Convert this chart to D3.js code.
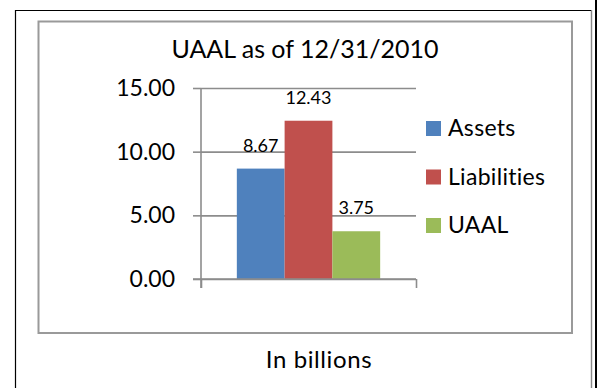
<!DOCTYPE html>
<html>
<head>
<meta charset="utf-8">
<script src="https://cdn.jsdelivr.net/npm/d3@7"></script>
<style>
  html, body { margin: 0; padding: 0; background: #fff; }
  svg { display: block; font-family: "Lato", "Open Sans", sans-serif; font-variant-ligatures: none; font-feature-settings: "liga" 0; }
</style>
</head>
<body>
<svg id="chart" width="597" height="388"></svg>
<script>
// Chart data
const title = "UAAL as of 12/31/2010";
const axisTitle = "In billions";
const category = ["In billions"];
const seriesNames = ["Assets", "Liabilities", "UAAL"];
const seriesValues = [8.67, 12.43, 3.75];
const seriesColors = ["#4F81BD", "#C0504D", "#9BBB59"];
const yTicks = [0, 5, 10, 15];

const svg = d3.select("#chart");

// Frame lines around the chart object
svg.append("rect").attr("x", 0).attr("y", 0).attr("width", 597).attr("height", 388).attr("fill", "#fff");
svg.append("path")
  .attr("d", "M15.5,390 V10.5 H591.5 V390")
  .attr("fill", "none").attr("stroke", "#000").attr("stroke-width", 1.2);
svg.append("line").attr("x1", 591.5).attr("x2", 591.5).attr("y1", 10).attr("y2", 388)
  .attr("stroke", "#888").attr("stroke-width", 1);
svg.append("rect").attr("x", 595).attr("y", 0).attr("width", 2).attr("height", 388).attr("fill", "#000");

// Chart area border
svg.append("rect")
  .attr("x", 38.5).attr("y", 21.5).attr("width", 533.5).attr("height", 311.5)
  .attr("fill", "none").attr("stroke", "#9a9a9a").attr("stroke-width", 2);

// Plot area
const plot = { left: 201, right: 416, top: 88, bottom: 279 };

const y = d3.scaleLinear().domain([0, 15]).range([plot.bottom, plot.top]);
const x0 = d3.scaleBand().domain(category).range([plot.left, plot.right])
  .paddingInner(0).paddingOuter(0.25);
const x1 = d3.scaleBand().domain(seriesNames).range([0, x0.bandwidth()]).padding(0);

// Gridlines
const grid = svg.append("g").attr("transform", `translate(${plot.left},0)`)
  .call(d3.axisLeft(y).tickValues(yTicks).tickSize(-(plot.right - plot.left)).tickFormat(""));
grid.select(".domain").remove();
grid.selectAll(".tick line").attr("stroke", "#8c8c8c").attr("stroke-width", 1.6);

// Value axis
const yAxis = svg.append("g").attr("transform", `translate(${plot.left},0)`)
  .call(d3.axisLeft(y).tickValues(yTicks).tickSize(8).tickPadding(18).tickFormat(d3.format(".2f")));
yAxis.select(".domain").remove();
yAxis.selectAll(".tick line").attr("stroke", "#8c8c8c").attr("stroke-width", 1.6);
yAxis.selectAll(".tick text").attr("font-family", "Lato, sans-serif").attr("font-size", 23).attr("fill", "#000");

// Category axis (tick marks at the category boundaries)
const xEdge = d3.scaleLinear().domain([0, 1]).range([plot.left, plot.right]);
const xAxis = svg.append("g").attr("transform", `translate(0,${plot.bottom})`)
  .call(d3.axisBottom(xEdge).tickValues([0, 1]).tickSize(9).tickFormat(""));
xAxis.select(".domain").remove();
xAxis.selectAll(".tick line").attr("stroke", "#8c8c8c").attr("stroke-width", 1.6);

// Vertical axis line
svg.append("line").attr("x1", plot.left).attr("x2", plot.left)
  .attr("y1", plot.top).attr("y2", plot.bottom + 9)
  .attr("stroke", "#8c8c8c").attr("stroke-width", 1.6);

// Bars
const bars = svg.append("g");
seriesNames.forEach((name, i) => {
  const bx = x0(category[0]) + x1(name);
  bars.append("rect")
    .attr("x", bx).attr("y", y(seriesValues[i]))
    .attr("width", x1.bandwidth()).attr("height", y(0) - y(seriesValues[i]))
    .attr("fill", seriesColors[i]);
  bars.append("text")
    .attr("x", bx + x1.bandwidth() / 2).attr("y", y(seriesValues[i]) - 17)
    .attr("text-anchor", "middle").attr("font-size", 18).attr("fill", "#000")
    .text(d3.format(".2f")(seriesValues[i]));
});

// Zero line drawn over the bar bases
svg.append("line").attr("x1", plot.left - 8).attr("x2", plot.right)
  .attr("y1", plot.bottom).attr("y2", plot.bottom)
  .attr("stroke", "#8c8c8c").attr("stroke-width", 1.6);

// Title
svg.append("text").attr("x", 305).attr("y", 58).attr("text-anchor", "middle")
  .attr("font-size", 25).attr("fill", "#000").text(title);

// Axis title
svg.append("text").attr("x", 319).attr("y", 368).attr("text-anchor", "middle")
  .attr("font-size", 24).attr("letter-spacing", 0.6).attr("fill", "#000").text(axisTitle);

// Legend
const legend = svg.append("g");
seriesNames.forEach((name, i) => {
  const by = 136 + i * 48.5;
  legend.append("rect").attr("x", 426).attr("y", by - 15).attr("width", 15).attr("height", 15)
    .attr("fill", seriesColors[i]);
  legend.append("text").attr("x", 448).attr("y", by).attr("font-size", 23)
    .attr("letter-spacing", 0.3).attr("fill", "#000").text(name);
});
</script>
</body>
</html>
